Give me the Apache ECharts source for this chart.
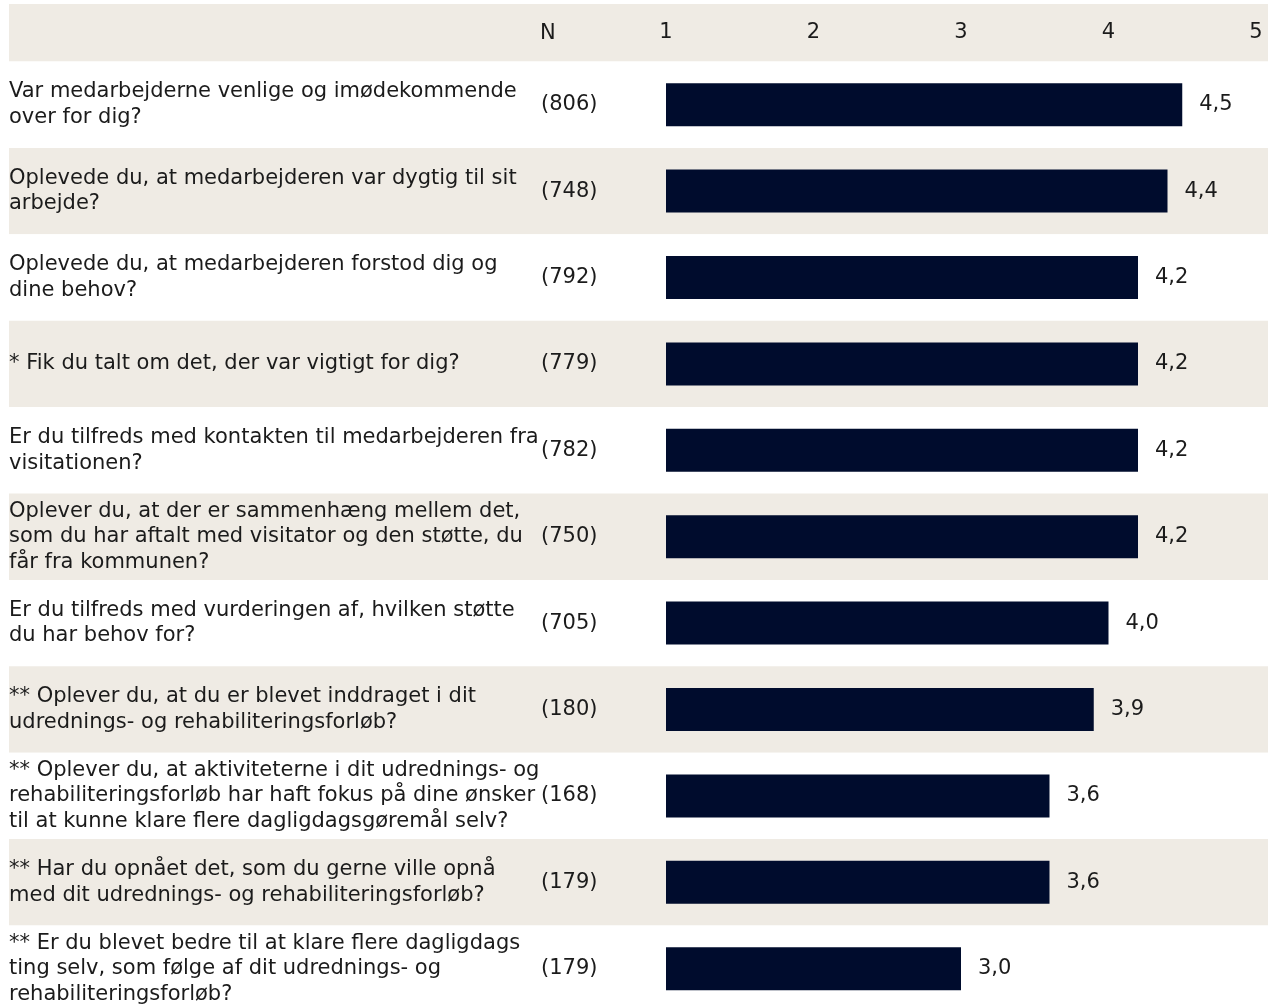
<!DOCTYPE html>
<html>
<head>
  <meta charset="utf-8">
  <title>Tilfredshed</title>
  <script src="https://cdn.jsdelivr.net/npm/echarts@6/dist/echarts.min.js"></script>
  <style>
    html, body { margin: 0; padding: 0; background: #fff; }
  </style>
</head>
<body>
  <div id="main" style="width: 1268px;height:1006px;"></div>
  <script type="text/javascript">
    // spoergsmaal, delt i linjer som i originalen
    var questions = [
      'Var medarbejderne venlige og imødekommende\nover for dig?',
      'Oplevede du, at medarbejderen var dygtig til sit\narbejde?',
      'Oplevede du, at medarbejderen forstod dig og\ndine behov?',
      '* Fik du talt om det, der var vigtigt for dig?',
      'Er du tilfreds med kontakten til medarbejderen fra\nvisitationen?',
      'Oplever du, at der er sammenhæng mellem det,\nsom du har aftalt med visitator og den støtte, du\nfår fra kommunen?',
      'Er du tilfreds med vurderingen af, hvilken støtte\ndu har behov for?',
      '** Oplever du, at du er blevet inddraget i dit\nudrednings- og rehabiliteringsforløb?',
      '** Oplever du, at aktiviteterne i dit udrednings- og\nrehabiliteringsforløb har haft fokus på dine ønsker\ntil at kunne klare flere dagligdagsgøremål selv?',
      '** Har du opnået det, som du gerne ville opnå\nmed dit udrednings- og rehabiliteringsforløb?',
      '** Er du blevet bedre til at klare flere dagligdags\nting selv, som følge af dit udrednings- og\nrehabiliteringsforløb?'
    ];
    var counts = [806, 748, 792, 779, 782, 750, 705, 180, 168, 179, 179];
    var scores = [4.5, 4.4, 4.2, 4.2, 4.2, 4.2, 4.0, 3.9, 3.6, 3.6, 3.0];
    var ticks = [1, 2, 3, 4, 5];

    var font = 'DejaVu Sans';
    var fs = 21;
    var ink = '#1b1b1b';
    var beige = '#efebe4';
    var navy = '#000c2d';

    var myChart = echarts.init(document.getElementById('main'));

    var option = {
      animation: false,
      backgroundColor: '#fff',
      textStyle: { fontFamily: font },
      title: {
        text: 'N',
        left: 540,
        top: 23,
        padding: 0,
        textStyle: { fontFamily: font, fontSize: fs, fontWeight: 'normal', color: ink }
      },
      graphic: [
        // header band
        { type: 'rect', left: 9, top: 4, z: -10,
          shape: { width: 1259, height: 57.5 }, style: { fill: beige } }
      ],
      grid: [
        // striped rows behind everything
        { left: 9, right: 0, top: 61.5, height: 950.4, outerBoundsMode: 'none' },
        // bars
        { left: 666, right: 12, top: 61.5, height: 950.4, outerBoundsMode: 'none' }
      ],
      xAxis: [
        { gridIndex: 0, type: 'value', show: false, min: 0, max: 1 },
        {
          gridIndex: 1,
          type: 'value',
          position: 'top',
          min: 1,
          max: 5,
          interval: 1,
          axisLine: { show: false },
          axisTick: { show: false },
          splitLine: { show: false },
          axisLabel: {
            margin: 18,
            fontFamily: font,
            fontSize: fs,
            color: ink,
            formatter: function (v) { return ticks.indexOf(v) >= 0 ? String(v) : ''; }
          }
        }
      ],
      yAxis: [
        {
          gridIndex: 0,
          type: 'category',
          inverse: true,
          data: questions,
          axisLine: { show: false },
          axisTick: { show: false },
          axisLabel: { show: false },
          splitArea: { show: true, areaStyle: { color: ['#ffffff', beige] } }
        },
        {
          gridIndex: 1,
          type: 'category',
          position: 'left',
          inverse: true,
          data: questions,
          axisLine: { show: false },
          axisTick: { show: false },
          axisLabel: {
            align: 'left',
            margin: 657,
            padding: [2, 0, 0, 0],
            fontFamily: font,
            fontSize: fs,
            lineHeight: 25.5,
            color: ink
          }
        },
        {
          gridIndex: 1,
          type: 'category',
          position: 'left',
          offset: 0,
          inverse: true,
          data: counts.map(function (n) { return '(' + n + ')'; }),
          axisLine: { show: false },
          axisTick: { show: false },
          axisLabel: {
            align: 'left',
            margin: 125,
            fontFamily: font,
            fontSize: fs,
            color: ink
          }
        }
      ],
      series: [
        {
          name: 'Gennemsnit',
          type: 'bar',
          xAxisIndex: 1,
          yAxisIndex: 1,
          barWidth: 43,
          itemStyle: { color: navy },
          label: {
            show: true,
            position: 'right',
            distance: 17,
            fontFamily: font,
            fontSize: fs,
            color: ink,
            formatter: function (p) { return p.value.toFixed(1).replace('.', ','); }
          },
          data: scores
        }
      ]
    };
    myChart.setOption(option);
  </script>
</body>
</html>
